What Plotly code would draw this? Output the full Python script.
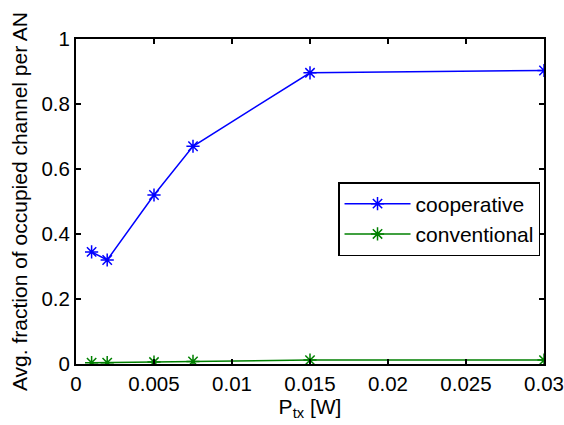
import plotly.graph_objects as go

p_tx = [0.001, 0.002, 0.005, 0.0075, 0.015, 0.03]
cooperative = [0.345, 0.320, 0.520, 0.670, 0.896, 0.903]
conventional = [0.004, 0.004, 0.006, 0.008, 0.012, 0.012]
x_ticks = [0, 0.005, 0.01, 0.015, 0.02, 0.025, 0.03]
x_labels = ["0", "0.005", "0.01", "0.015", "0.02", "0.025", "0.03"]
y_ticks = [0, 0.2, 0.4, 0.6, 0.8, 1]
y_labels = ["0", "0.2", "0.4", "0.6", "0.8", "1"]

FONT = "Liberation Sans, Arial, sans-serif"

fig = go.Figure()
fig.add_trace(go.Scatter(x=p_tx, y=cooperative, mode="lines+markers", name="cooperative",
                         line=dict(color="#0000ff", width=1.5),
                         marker=dict(symbol="asterisk-open", size=11, color="#0000ff",
                                     line=dict(color="#0000ff", width=1.5))))
fig.add_trace(go.Scatter(x=p_tx, y=conventional, mode="lines+markers", name="conventional",
                         line=dict(color="#008000", width=1.5),
                         marker=dict(symbol="asterisk-open", size=11, color="#008000",
                                     line=dict(color="#008000", width=1.5))))

axis_common = dict(showgrid=False, zeroline=False, showline=True, linecolor="black", linewidth=2,
                   mirror="ticks", ticks="inside", ticklen=5, tickcolor="black", tickwidth=1.5,
                   automargin=False,
                   tickfont=dict(family=FONT, size=20.5, color="black"))

fig.update_xaxes(range=[0, 0.03], tickvals=x_ticks, ticktext=x_labels,
                 title=dict(text="P<sub>tx</sub> [W]", font=dict(family=FONT, size=21, color="black"), standoff=2),
                 **axis_common)
fig.update_yaxes(range=[0, 1], tickvals=y_ticks, ticktext=y_labels,
                 title=dict(text="Avg. fraction of occupied channel per AN", font=dict(family=FONT, size=21, color="black"), standoff=8),
                 **axis_common)

fig.update_layout(template="none", width=564, height=425, margin=dict(l=76, r=20, t=39, b=61),
                  plot_bgcolor="white", paper_bgcolor="white",
                  font=dict(family=FONT, size=21, color="black"),
                  showlegend=True,
                  legend=dict(x=0.9915, y=0.56, xanchor="right", yanchor="top",
                              bordercolor="black", borderwidth=1.5, bgcolor="white",
                              font=dict(family=FONT, size=21, color="black"),
                              itemwidth=66, tracegroupgap=0))

fig.write_html("out.html")
